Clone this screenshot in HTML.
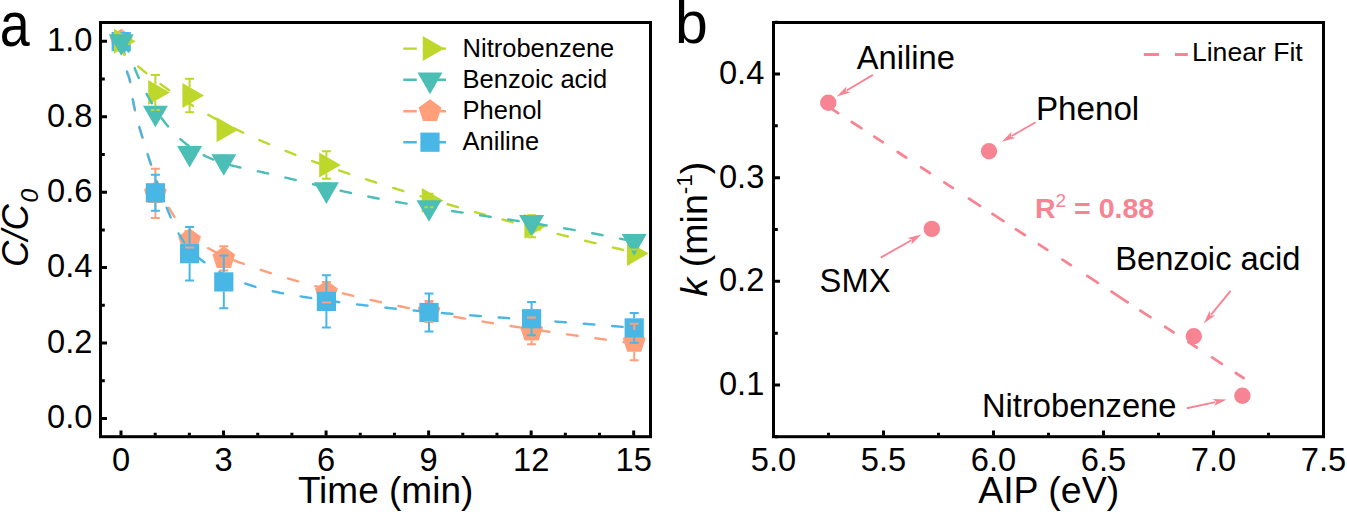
<!DOCTYPE html><html><head><meta charset="utf-8"><style>html,body{margin:0;padding:0;background:#fff;}svg{display:block;}text{font-family:"Liberation Sans",sans-serif;}</style></head><body>
<svg width="1347" height="512" viewBox="0 0 1347 512">
<rect width="1347" height="512" fill="#fff"/>
<text transform="translate(-0.2,46.2) scale(0.85,1)" font-size="63.4">a</text>
<g font-size="34" text-anchor="end">
<text transform="translate(92.4,428.3) scale(0.96,1)">0.0</text>
<text transform="translate(92.4,352.9) scale(0.96,1)">0.2</text>
<text transform="translate(92.4,277.4) scale(0.96,1)">0.4</text>
<text transform="translate(92.4,202.0) scale(0.96,1)">0.6</text>
<text transform="translate(92.4,126.5) scale(0.96,1)">0.8</text>
<text transform="translate(92.4,51.1) scale(0.96,1)">1.0</text>
</g>
<g font-size="34" text-anchor="middle">
<text transform="translate(121.0,470.6) scale(0.96,1)">0</text>
<text transform="translate(223.5,470.6) scale(0.96,1)">3</text>
<text transform="translate(326.1,470.6) scale(0.96,1)">6</text>
<text transform="translate(428.6,470.6) scale(0.96,1)">9</text>
<text transform="translate(531.2,470.6) scale(0.96,1)">12</text>
<text transform="translate(633.7,470.6) scale(0.96,1)">15</text>
</g>
<text x="297.9" y="502.6" font-size="37">Time (min)</text>
<text transform="translate(28.3,267) rotate(-90)" font-size="36.6" font-style="italic">C/C<tspan font-size="24.5" dx="1.5" dy="9.5">0</tspan></text>
<path d="M121.00,435.5 v-5 M155.18,435.5 v-2.8 M189.36,435.5 v-2.8 M223.54,435.5 v-5 M257.72,435.5 v-2.8 M291.90,435.5 v-2.8 M326.08,435.5 v-5 M360.26,435.5 v-2.8 M394.44,435.5 v-2.8 M428.62,435.5 v-5 M462.80,435.5 v-2.8 M496.98,435.5 v-2.8 M531.16,435.5 v-5 M565.34,435.5 v-2.8 M599.52,435.5 v-2.8 M633.70,435.5 v-5 M102,418.50 h5 M102,380.78 h2.8 M102,343.06 h5 M102,305.34 h2.8 M102,267.62 h5 M102,229.90 h2.8 M102,192.18 h5 M102,154.46 h2.8 M102,116.74 h5 M102,79.02 h2.8 M102,41.30 h5" stroke="#000" stroke-width="3" fill="none"/>
<defs><clipPath id="ca"><rect x="102" y="24" width="547" height="411"/></clipPath></defs>
<g clip-path="url(#ca)">
<!-- salmon P=28.50 ph=10.03 R=0.994 -->
<path d="M121.00,33.18 L122.28,36.27 L123.57,47.02 L124.85,59.95 L126.14,69.58 L127.42,73.82 L128.71,76.75 L129.99,81.20 L131.28,88.64 L132.56,97.27 L133.85,104.83 L135.13,111.35 L136.42,117.00 L137.70,121.97 L138.99,126.43 L140.27,130.55 L141.56,134.50 L142.84,138.47 L144.13,142.53 L145.41,146.66 L146.70,150.83 L147.98,154.99 L149.27,159.11 L150.55,163.13 L151.84,167.04 L153.12,170.82 L154.41,174.47 L155.69,177.99 L156.98,181.39 L158.26,184.67 L159.55,187.84 L160.83,190.89 L162.12,193.83 L163.40,196.66 L164.69,199.39 L165.97,202.01 L167.26,204.53 L168.54,206.95 L169.83,209.28 L171.11,211.52 L172.40,213.66 L173.68,215.72 L174.97,217.70 L176.25,219.59 L177.54,221.40 L178.82,223.14 L180.11,224.81 L181.39,226.40 L182.68,227.93 L183.96,229.39 L185.25,230.78 L186.53,232.12 L187.82,233.40 L189.10,234.63 L190.39,235.80 L191.67,236.93 L192.96,238.01 L194.24,239.04 L195.53,240.04 L196.81,240.99 L198.10,241.91 L199.38,242.80 L200.67,243.66 L201.95,244.49 L203.24,245.30 L204.52,246.08 L205.81,246.84 L207.09,247.59 L208.38,248.32 L209.66,249.03 L210.95,249.73 L212.23,250.42 L213.52,251.08 L214.80,251.74 L216.09,252.38 L217.37,253.01 L218.66,253.62 L219.94,254.23 L221.23,254.82 L222.51,255.40 L223.80,255.98 L225.08,256.54 L226.37,257.09 L227.65,257.64 L228.94,258.18 L230.22,258.71 L231.51,259.23 L232.79,259.75 L234.08,260.26 L235.36,260.77 L236.65,261.28 L237.93,261.77 L239.22,262.27 L240.50,262.76 L241.79,263.24 L243.07,263.72 L244.36,264.20 L245.64,264.67 L246.93,265.14 L248.21,265.61 L249.50,266.07 L250.78,266.52 L252.07,266.98 L253.35,267.42 L254.64,267.87 L255.92,268.31 L257.21,268.75 L258.49,269.19 L259.78,269.62 L261.06,270.05 L262.35,270.47 L263.63,270.90 L264.92,271.31 L266.20,271.73 L267.49,272.15 L268.77,272.56 L270.06,272.96 L271.34,273.37 L272.63,273.77 L273.91,274.18 L275.20,274.57 L276.48,274.97 L277.77,275.37 L279.05,275.76 L280.34,276.15 L281.62,276.54 L282.91,276.92 L284.19,277.31 L285.48,277.69 L286.76,278.07 L288.05,278.45 L289.33,278.83 L290.62,279.21 L291.90,279.58 L293.18,279.96 L294.47,280.33 L295.75,280.70 L297.04,281.07 L298.32,281.44 L299.61,281.81 L300.89,282.17 L302.18,282.53 L303.46,282.90 L304.75,283.26 L306.03,283.62 L307.32,283.97 L308.60,284.33 L309.89,284.68 L311.17,285.04 L312.46,285.39 L313.74,285.74 L315.03,286.09 L316.31,286.44 L317.60,286.78 L318.88,287.13 L320.17,287.47 L321.45,287.81 L322.74,288.15 L324.02,288.49 L325.31,288.83 L326.59,289.17 L327.88,289.50 L329.16,289.84 L330.45,290.17 L331.73,290.50 L333.02,290.83 L334.30,291.16 L335.59,291.48 L336.87,291.81 L338.16,292.13 L339.44,292.46 L340.73,292.78 L342.01,293.10 L343.30,293.42 L344.58,293.74 L345.87,294.05 L347.15,294.37 L348.44,294.68 L349.72,295.00 L351.01,295.31 L352.29,295.62 L353.58,295.93 L354.86,296.23 L356.15,296.54 L357.43,296.84 L358.72,297.15 L360.00,297.45 L361.29,297.75 L362.57,298.05 L363.86,298.35 L365.14,298.65 L366.43,298.95 L367.71,299.24 L369.00,299.54 L370.28,299.83 L371.57,300.12 L372.85,300.41 L374.14,300.70 L375.42,300.99 L376.71,301.28 L377.99,301.56 L379.28,301.85 L380.56,302.13 L381.85,302.42 L383.13,302.70 L384.42,302.98 L385.70,303.26 L386.99,303.54 L388.27,303.81 L389.56,304.09 L390.84,304.37 L392.13,304.64 L393.41,304.91 L394.70,305.18 L395.98,305.46 L397.27,305.72 L398.55,305.99 L399.84,306.26 L401.12,306.53 L402.41,306.79 L403.69,307.06 L404.98,307.32 L406.26,307.58 L407.55,307.85 L408.83,308.11 L410.12,308.37 L411.40,308.62 L412.69,308.88 L413.97,309.14 L415.26,309.39 L416.54,309.65 L417.83,309.90 L419.11,310.15 L420.40,310.41 L421.68,310.66 L422.97,310.91 L424.25,311.16 L425.54,311.40 L426.82,311.65 L428.11,311.90 L429.39,312.14 L430.68,312.39 L431.96,312.63 L433.25,312.87 L434.53,313.11 L435.82,313.35 L437.10,313.59 L438.39,313.83 L439.67,314.07 L440.96,314.31 L442.24,314.54 L443.53,314.78 L444.81,315.01 L446.10,315.25 L447.38,315.48 L448.67,315.71 L449.95,315.94 L451.24,316.18 L452.52,316.41 L453.81,316.63 L455.09,316.86 L456.38,317.09 L457.66,317.32 L458.95,317.54 L460.23,317.77 L461.52,317.99 L462.80,318.21 L464.08,318.44 L465.37,318.66 L466.65,318.88 L467.94,319.10 L469.22,319.32 L470.51,319.54 L471.79,319.76 L473.08,319.97 L474.36,320.19 L475.65,320.41 L476.93,320.62 L478.22,320.84 L479.50,321.05 L480.79,321.27 L482.07,321.48 L483.36,321.69 L484.64,321.90 L485.93,322.11 L487.21,322.32 L488.50,322.53 L489.78,322.74 L491.07,322.95 L492.35,323.16 L493.64,323.36 L494.92,323.57 L496.21,323.77 L497.49,323.98 L498.78,324.18 L500.06,324.39 L501.35,324.59 L502.63,324.79 L503.92,324.99 L505.20,325.20 L506.49,325.40 L507.77,325.60 L509.06,325.80 L510.34,326.00 L511.63,326.19 L512.91,326.39 L514.20,326.59 L515.48,326.79 L516.77,326.98 L518.05,327.18 L519.34,327.37 L520.62,327.57 L521.91,327.76 L523.19,327.96 L524.48,328.15 L525.76,328.34 L527.05,328.54 L528.33,328.73 L529.62,328.92 L530.90,329.11 L532.19,329.30 L533.47,329.49 L534.76,329.68 L536.04,329.87 L537.33,330.06 L538.61,330.25 L539.90,330.44 L541.18,330.62 L542.47,330.81 L543.75,331.00 L545.04,331.18 L546.32,331.37 L547.61,331.56 L548.89,331.74 L550.18,331.93 L551.46,332.11 L552.75,332.30 L554.03,332.48 L555.32,332.66 L556.60,332.85 L557.89,333.03 L559.17,333.21 L560.46,333.39 L561.74,333.57 L563.03,333.76 L564.31,333.94 L565.60,334.12 L566.88,334.30 L568.17,334.48 L569.45,334.66 L570.74,334.84 L572.02,335.02 L573.31,335.20 L574.59,335.38 L575.88,335.55 L577.16,335.73 L578.45,335.91 L579.73,336.09 L581.02,336.27 L582.30,336.44 L583.59,336.62 L584.87,336.80 L586.16,336.97 L587.44,337.15 L588.73,337.33 L590.01,337.50 L591.30,337.68 L592.58,337.85 L593.87,338.03 L595.15,338.21 L596.44,338.38 L597.72,338.56 L599.01,338.73 L600.29,338.91 L601.58,339.08 L602.86,339.25 L604.15,339.43 L605.43,339.60 L606.72,339.78 L608.00,339.95 L609.29,340.12 L610.57,340.30 L611.86,340.47 L613.14,340.65 L614.43,340.82 L615.71,340.99 L617.00,341.17 L618.28,341.34 L619.57,341.51 L620.85,341.69 L622.14,341.86 L623.42,342.03 L624.71,342.20 L625.99,342.38 L627.28,342.55 L628.56,342.72 L629.85,342.90 L631.13,343.07 L632.42,343.24 L633.70,343.41" stroke="#FFA07A" stroke-width="2.4" stroke-linecap="round" fill="none" stroke-dasharray="10.6 17.90" stroke-dashoffset="17.27"/>
<path d="M121.20,28.80 L132.61,37.09 L128.25,50.51 L114.15,50.51 L109.79,37.09Z" fill="#FFA07A"/>
<path d="M155.40,181.30 L166.81,189.59 L162.45,203.01 L148.35,203.01 L143.99,189.59Z" fill="#FFA07A"/>
<path d="M189.60,228.30 L201.01,236.59 L196.65,250.01 L182.55,250.01 L178.19,236.59Z" fill="#FFA07A"/>
<path d="M223.80,246.30 L235.21,254.59 L230.85,268.01 L216.75,268.01 L212.39,254.59Z" fill="#FFA07A"/>
<path d="M326.40,280.30 L337.81,288.59 L333.45,302.01 L319.35,302.01 L314.99,288.59Z" fill="#FFA07A"/>
<path d="M429.00,299.50 L440.41,307.79 L436.05,321.21 L421.95,321.21 L417.59,307.79Z" fill="#FFA07A"/>
<path d="M531.60,318.90 L543.01,327.19 L538.65,340.61 L524.55,340.61 L520.19,327.19Z" fill="#FFA07A"/>
<path d="M634.20,330.00 L645.61,338.29 L641.25,351.71 L627.15,351.71 L622.79,338.29Z" fill="#FFA07A"/>
<!-- blue P=28.45 ph=8.99 R=0.993 -->
<path d="M121.00,33.33 L122.28,37.40 L123.57,47.72 L124.85,59.65 L126.14,68.58 L127.42,72.83 L128.71,76.01 L129.99,80.94 L131.28,89.29 L132.56,98.33 L133.85,105.22 L135.13,110.79 L136.42,115.94 L137.70,120.88 L138.99,125.64 L140.27,130.23 L141.56,134.68 L142.84,139.00 L144.13,143.21 L145.41,147.34 L146.70,151.41 L147.98,155.43 L149.27,159.41 L150.55,163.34 L151.84,167.22 L153.12,171.05 L154.41,174.83 L155.69,178.55 L156.98,182.22 L158.26,185.83 L159.55,189.37 L160.83,192.86 L162.12,196.27 L163.40,199.63 L164.69,202.91 L165.97,206.12 L167.26,209.25 L168.54,212.31 L169.83,215.30 L171.11,218.20 L172.40,221.01 L173.68,223.74 L174.97,226.38 L176.25,228.93 L177.54,231.38 L178.82,233.74 L180.11,236.00 L181.39,238.15 L182.68,240.20 L183.96,242.14 L185.25,243.98 L186.53,245.70 L187.82,247.33 L189.10,248.86 L190.39,250.31 L191.67,251.68 L192.96,252.97 L194.24,254.19 L195.53,255.36 L196.81,256.47 L198.10,257.53 L199.38,258.55 L200.67,259.54 L201.95,260.50 L203.24,261.44 L204.52,262.35 L205.81,263.26 L207.09,264.14 L208.38,265.01 L209.66,265.86 L210.95,266.69 L212.23,267.51 L213.52,268.30 L214.80,269.09 L216.09,269.86 L217.37,270.61 L218.66,271.34 L219.94,272.06 L221.23,272.77 L222.51,273.46 L223.80,274.14 L225.08,274.80 L226.37,275.45 L227.65,276.08 L228.94,276.70 L230.22,277.31 L231.51,277.90 L232.79,278.48 L234.08,279.05 L235.36,279.60 L236.65,280.14 L237.93,280.67 L239.22,281.19 L240.50,281.70 L241.79,282.19 L243.07,282.68 L244.36,283.15 L245.64,283.61 L246.93,284.06 L248.21,284.50 L249.50,284.93 L250.78,285.35 L252.07,285.76 L253.35,286.17 L254.64,286.56 L255.92,286.94 L257.21,287.32 L258.49,287.68 L259.78,288.04 L261.06,288.39 L262.35,288.73 L263.63,289.06 L264.92,289.39 L266.20,289.71 L267.49,290.02 L268.77,290.33 L270.06,290.63 L271.34,290.92 L272.63,291.20 L273.91,291.49 L275.20,291.76 L276.48,292.03 L277.77,292.29 L279.05,292.55 L280.34,292.81 L281.62,293.06 L282.91,293.30 L284.19,293.55 L285.48,293.78 L286.76,294.02 L288.05,294.25 L289.33,294.48 L290.62,294.70 L291.90,294.92 L293.18,295.14 L294.47,295.36 L295.75,295.57 L297.04,295.79 L298.32,296.00 L299.61,296.21 L300.89,296.42 L302.18,296.63 L303.46,296.83 L304.75,297.04 L306.03,297.24 L307.32,297.44 L308.60,297.65 L309.89,297.84 L311.17,298.04 L312.46,298.24 L313.74,298.44 L315.03,298.63 L316.31,298.83 L317.60,299.02 L318.88,299.21 L320.17,299.40 L321.45,299.59 L322.74,299.78 L324.02,299.96 L325.31,300.15 L326.59,300.33 L327.88,300.51 L329.16,300.70 L330.45,300.88 L331.73,301.06 L333.02,301.23 L334.30,301.41 L335.59,301.59 L336.87,301.76 L338.16,301.94 L339.44,302.11 L340.73,302.28 L342.01,302.45 L343.30,302.62 L344.58,302.79 L345.87,302.96 L347.15,303.12 L348.44,303.29 L349.72,303.45 L351.01,303.62 L352.29,303.78 L353.58,303.94 L354.86,304.10 L356.15,304.26 L357.43,304.42 L358.72,304.57 L360.00,304.73 L361.29,304.88 L362.57,305.04 L363.86,305.19 L365.14,305.34 L366.43,305.50 L367.71,305.65 L369.00,305.80 L370.28,305.94 L371.57,306.09 L372.85,306.24 L374.14,306.38 L375.42,306.53 L376.71,306.67 L377.99,306.82 L379.28,306.96 L380.56,307.10 L381.85,307.24 L383.13,307.38 L384.42,307.52 L385.70,307.66 L386.99,307.80 L388.27,307.93 L389.56,308.07 L390.84,308.20 L392.13,308.34 L393.41,308.47 L394.70,308.60 L395.98,308.73 L397.27,308.87 L398.55,309.00 L399.84,309.13 L401.12,309.25 L402.41,309.38 L403.69,309.51 L404.98,309.64 L406.26,309.76 L407.55,309.89 L408.83,310.01 L410.12,310.14 L411.40,310.26 L412.69,310.38 L413.97,310.50 L415.26,310.62 L416.54,310.74 L417.83,310.86 L419.11,310.98 L420.40,311.10 L421.68,311.22 L422.97,311.34 L424.25,311.45 L425.54,311.57 L426.82,311.69 L428.11,311.80 L429.39,311.92 L430.68,312.03 L431.96,312.14 L433.25,312.25 L434.53,312.37 L435.82,312.48 L437.10,312.59 L438.39,312.70 L439.67,312.81 L440.96,312.92 L442.24,313.03 L443.53,313.14 L444.81,313.25 L446.10,313.35 L447.38,313.46 L448.67,313.57 L449.95,313.67 L451.24,313.78 L452.52,313.88 L453.81,313.99 L455.09,314.09 L456.38,314.20 L457.66,314.30 L458.95,314.40 L460.23,314.51 L461.52,314.61 L462.80,314.71 L464.08,314.81 L465.37,314.91 L466.65,315.02 L467.94,315.12 L469.22,315.22 L470.51,315.32 L471.79,315.42 L473.08,315.52 L474.36,315.61 L475.65,315.71 L476.93,315.81 L478.22,315.91 L479.50,316.01 L480.79,316.10 L482.07,316.20 L483.36,316.30 L484.64,316.40 L485.93,316.49 L487.21,316.59 L488.50,316.68 L489.78,316.78 L491.07,316.88 L492.35,316.97 L493.64,317.07 L494.92,317.16 L496.21,317.26 L497.49,317.35 L498.78,317.44 L500.06,317.54 L501.35,317.63 L502.63,317.73 L503.92,317.82 L505.20,317.91 L506.49,318.01 L507.77,318.10 L509.06,318.20 L510.34,318.29 L511.63,318.38 L512.91,318.47 L514.20,318.57 L515.48,318.66 L516.77,318.75 L518.05,318.85 L519.34,318.94 L520.62,319.03 L521.91,319.12 L523.19,319.22 L524.48,319.31 L525.76,319.40 L527.05,319.49 L528.33,319.59 L529.62,319.68 L530.90,319.77 L532.19,319.86 L533.47,319.96 L534.76,320.05 L536.04,320.14 L537.33,320.24 L538.61,320.33 L539.90,320.42 L541.18,320.51 L542.47,320.61 L543.75,320.70 L545.04,320.79 L546.32,320.89 L547.61,320.98 L548.89,321.07 L550.18,321.17 L551.46,321.26 L552.75,321.36 L554.03,321.45 L555.32,321.54 L556.60,321.64 L557.89,321.73 L559.17,321.83 L560.46,321.92 L561.74,322.02 L563.03,322.11 L564.31,322.21 L565.60,322.31 L566.88,322.40 L568.17,322.50 L569.45,322.59 L570.74,322.69 L572.02,322.79 L573.31,322.89 L574.59,322.98 L575.88,323.08 L577.16,323.18 L578.45,323.28 L579.73,323.38 L581.02,323.48 L582.30,323.57 L583.59,323.67 L584.87,323.77 L586.16,323.88 L587.44,323.98 L588.73,324.08 L590.01,324.18 L591.30,324.28 L592.58,324.38 L593.87,324.48 L595.15,324.59 L596.44,324.69 L597.72,324.79 L599.01,324.90 L600.29,325.00 L601.58,325.11 L602.86,325.21 L604.15,325.32 L605.43,325.43 L606.72,325.53 L608.00,325.64 L609.29,325.75 L610.57,325.86 L611.86,325.97 L613.14,326.07 L614.43,326.18 L615.71,326.29 L617.00,326.40 L618.28,326.52 L619.57,326.63 L620.85,326.74 L622.14,326.85 L623.42,326.97 L624.71,327.08 L625.99,327.20 L627.28,327.31 L628.56,327.43 L629.85,327.54 L631.13,327.66 L632.42,327.78 L633.70,327.90" stroke="#48B7E6" stroke-width="2.4" stroke-linecap="round" fill="none" stroke-dasharray="10.6 17.85" stroke-dashoffset="18.26"/>
<rect x="111.60" y="32.00" width="19.2" height="19.2" fill="#48B7E6"/>
<rect x="145.80" y="183.20" width="19.2" height="19.2" fill="#48B7E6"/>
<rect x="180.00" y="244.10" width="19.2" height="19.2" fill="#48B7E6"/>
<rect x="214.20" y="272.30" width="19.2" height="19.2" fill="#48B7E6"/>
<rect x="316.80" y="291.80" width="19.2" height="19.2" fill="#48B7E6"/>
<rect x="419.40" y="302.90" width="19.2" height="19.2" fill="#48B7E6"/>
<rect x="522.00" y="309.10" width="19.2" height="19.2" fill="#48B7E6"/>
<rect x="624.60" y="318.30" width="19.2" height="19.2" fill="#48B7E6"/>
<!-- green P=28.45 ph=21.74 R=0.995 -->
<path d="M121.00,51.27 L122.28,52.46 L123.57,53.64 L124.85,54.81 L126.14,55.97 L127.42,57.13 L128.71,58.27 L129.99,59.41 L131.28,60.54 L132.56,61.66 L133.85,62.77 L135.13,63.87 L136.42,64.97 L137.70,66.06 L138.99,67.14 L140.27,68.21 L141.56,69.27 L142.84,70.32 L144.13,71.37 L145.41,72.41 L146.70,73.44 L147.98,74.46 L149.27,75.48 L150.55,76.49 L151.84,77.49 L153.12,78.48 L154.41,79.47 L155.69,80.45 L156.98,81.42 L158.26,82.38 L159.55,83.34 L160.83,84.29 L162.12,85.23 L163.40,86.16 L164.69,87.09 L165.97,88.01 L167.26,88.93 L168.54,89.83 L169.83,90.73 L171.11,91.63 L172.40,92.51 L173.68,93.39 L174.97,94.27 L176.25,95.13 L177.54,95.99 L178.82,96.85 L180.11,97.70 L181.39,98.54 L182.68,99.37 L183.96,100.20 L185.25,101.02 L186.53,101.84 L187.82,102.65 L189.10,103.46 L190.39,104.26 L191.67,105.05 L192.96,105.84 L194.24,106.62 L195.53,107.39 L196.81,108.16 L198.10,108.93 L199.38,109.69 L200.67,110.44 L201.95,111.19 L203.24,111.93 L204.52,112.67 L205.81,113.40 L207.09,114.13 L208.38,114.85 L209.66,115.57 L210.95,116.28 L212.23,116.99 L213.52,117.69 L214.80,118.39 L216.09,119.08 L217.37,119.77 L218.66,120.45 L219.94,121.13 L221.23,121.81 L222.51,122.47 L223.80,123.14 L225.08,123.80 L226.37,124.46 L227.65,125.11 L228.94,125.76 L230.22,126.40 L231.51,127.04 L232.79,127.68 L234.08,128.31 L235.36,128.93 L236.65,129.56 L237.93,130.18 L239.22,130.79 L240.50,131.41 L241.79,132.01 L243.07,132.62 L244.36,133.22 L245.64,133.82 L246.93,134.41 L248.21,135.01 L249.50,135.59 L250.78,136.18 L252.07,136.76 L253.35,137.34 L254.64,137.91 L255.92,138.48 L257.21,139.05 L258.49,139.62 L259.78,140.18 L261.06,140.74 L262.35,141.30 L263.63,141.86 L264.92,142.41 L266.20,142.96 L267.49,143.50 L268.77,144.05 L270.06,144.59 L271.34,145.13 L272.63,145.66 L273.91,146.20 L275.20,146.73 L276.48,147.25 L277.77,147.78 L279.05,148.30 L280.34,148.82 L281.62,149.34 L282.91,149.86 L284.19,150.37 L285.48,150.88 L286.76,151.39 L288.05,151.89 L289.33,152.40 L290.62,152.90 L291.90,153.40 L293.18,153.90 L294.47,154.39 L295.75,154.88 L297.04,155.38 L298.32,155.86 L299.61,156.35 L300.89,156.83 L302.18,157.32 L303.46,157.80 L304.75,158.28 L306.03,158.75 L307.32,159.23 L308.60,159.70 L309.89,160.17 L311.17,160.64 L312.46,161.11 L313.74,161.57 L315.03,162.04 L316.31,162.50 L317.60,162.96 L318.88,163.42 L320.17,163.87 L321.45,164.33 L322.74,164.78 L324.02,165.23 L325.31,165.68 L326.59,166.13 L327.88,166.58 L329.16,167.03 L330.45,167.47 L331.73,167.91 L333.02,168.35 L334.30,168.79 L335.59,169.23 L336.87,169.67 L338.16,170.11 L339.44,170.54 L340.73,170.98 L342.01,171.41 L343.30,171.84 L344.58,172.27 L345.87,172.70 L347.15,173.13 L348.44,173.55 L349.72,173.98 L351.01,174.41 L352.29,174.83 L353.58,175.25 L354.86,175.67 L356.15,176.09 L357.43,176.51 L358.72,176.93 L360.00,177.35 L361.29,177.77 L362.57,178.19 L363.86,178.60 L365.14,179.02 L366.43,179.43 L367.71,179.85 L369.00,180.26 L370.28,180.67 L371.57,181.08 L372.85,181.49 L374.14,181.90 L375.42,182.31 L376.71,182.72 L377.99,183.13 L379.28,183.54 L380.56,183.95 L381.85,184.35 L383.13,184.76 L384.42,185.16 L385.70,185.56 L386.99,185.97 L388.27,186.37 L389.56,186.77 L390.84,187.17 L392.13,187.57 L393.41,187.97 L394.70,188.37 L395.98,188.77 L397.27,189.17 L398.55,189.56 L399.84,189.96 L401.12,190.36 L402.41,190.75 L403.69,191.15 L404.98,191.54 L406.26,191.93 L407.55,192.32 L408.83,192.72 L410.12,193.11 L411.40,193.50 L412.69,193.89 L413.97,194.27 L415.26,194.66 L416.54,195.05 L417.83,195.44 L419.11,195.82 L420.40,196.21 L421.68,196.59 L422.97,196.98 L424.25,197.36 L425.54,197.74 L426.82,198.13 L428.11,198.51 L429.39,198.89 L430.68,199.27 L431.96,199.65 L433.25,200.03 L434.53,200.41 L435.82,200.78 L437.10,201.16 L438.39,201.54 L439.67,201.91 L440.96,202.29 L442.24,202.66 L443.53,203.04 L444.81,203.41 L446.10,203.78 L447.38,204.15 L448.67,204.52 L449.95,204.90 L451.24,205.27 L452.52,205.64 L453.81,206.00 L455.09,206.37 L456.38,206.74 L457.66,207.11 L458.95,207.47 L460.23,207.84 L461.52,208.20 L462.80,208.57 L464.08,208.93 L465.37,209.30 L466.65,209.66 L467.94,210.02 L469.22,210.38 L470.51,210.74 L471.79,211.10 L473.08,211.46 L474.36,211.82 L475.65,212.18 L476.93,212.54 L478.22,212.90 L479.50,213.26 L480.79,213.61 L482.07,213.97 L483.36,214.32 L484.64,214.68 L485.93,215.03 L487.21,215.38 L488.50,215.74 L489.78,216.09 L491.07,216.44 L492.35,216.79 L493.64,217.14 L494.92,217.49 L496.21,217.84 L497.49,218.19 L498.78,218.54 L500.06,218.89 L501.35,219.24 L502.63,219.58 L503.92,219.93 L505.20,220.27 L506.49,220.62 L507.77,220.96 L509.06,221.31 L510.34,221.65 L511.63,221.99 L512.91,222.34 L514.20,222.68 L515.48,223.02 L516.77,223.36 L518.05,223.70 L519.34,224.04 L520.62,224.38 L521.91,224.72 L523.19,225.06 L524.48,225.39 L525.76,225.73 L527.05,226.07 L528.33,226.40 L529.62,226.74 L530.90,227.07 L532.19,227.41 L533.47,227.74 L534.76,228.08 L536.04,228.41 L537.33,228.74 L538.61,229.07 L539.90,229.40 L541.18,229.74 L542.47,230.07 L543.75,230.40 L545.04,230.73 L546.32,231.05 L547.61,231.38 L548.89,231.71 L550.18,232.04 L551.46,232.36 L552.75,232.69 L554.03,233.02 L555.32,233.34 L556.60,233.67 L557.89,233.99 L559.17,234.32 L560.46,234.64 L561.74,234.96 L563.03,235.29 L564.31,235.61 L565.60,235.93 L566.88,236.25 L568.17,236.57 L569.45,236.89 L570.74,237.21 L572.02,237.53 L573.31,237.85 L574.59,238.17 L575.88,238.49 L577.16,238.80 L578.45,239.12 L579.73,239.44 L581.02,239.75 L582.30,240.07 L583.59,240.38 L584.87,240.70 L586.16,241.01 L587.44,241.33 L588.73,241.64 L590.01,241.95 L591.30,242.27 L592.58,242.58 L593.87,242.89 L595.15,243.20 L596.44,243.51 L597.72,243.82 L599.01,244.13 L600.29,244.44 L601.58,244.75 L602.86,245.06 L604.15,245.37 L605.43,245.68 L606.72,245.98 L608.00,246.29 L609.29,246.60 L610.57,246.90 L611.86,247.21 L613.14,247.51 L614.43,247.82 L615.71,248.12 L617.00,248.43 L618.28,248.73 L619.57,249.04 L620.85,249.34 L622.14,249.64 L623.42,249.94 L624.71,250.24 L625.99,250.55 L627.28,250.85 L628.56,251.15 L629.85,251.45 L631.13,251.75 L632.42,252.05 L633.70,252.35" stroke="#BED72B" stroke-width="2.4" stroke-linecap="round" fill="none" stroke-dasharray="10.6 17.85" stroke-dashoffset="5.51"/>
<path d="M113.98,28.80 L135.63,41.30 L113.98,53.80Z" fill="#BED72B"/>
<path d="M148.18,80.10 L169.83,92.60 L148.18,105.10Z" fill="#BED72B"/>
<path d="M182.38,83.00 L204.03,95.50 L182.38,108.00Z" fill="#BED72B"/>
<path d="M216.58,117.15 L238.23,129.65 L216.58,142.15Z" fill="#BED72B"/>
<path d="M319.18,152.50 L340.83,165.00 L319.18,177.50Z" fill="#BED72B"/>
<path d="M421.78,188.00 L443.43,200.50 L421.78,213.00Z" fill="#BED72B"/>
<path d="M524.38,213.80 L546.03,226.30 L524.38,238.80Z" fill="#BED72B"/>
<path d="M626.98,240.90 L648.63,253.40 L626.98,265.90Z" fill="#BED72B"/>
<!-- teal P=28.35 ph=14.61 R=0.998 -->
<path d="M121.00,26.26 L122.28,30.94 L123.57,35.45 L124.85,39.80 L126.14,43.98 L127.42,48.01 L128.71,51.89 L129.99,55.63 L131.28,59.24 L132.56,62.71 L133.85,66.07 L135.13,69.30 L136.42,72.42 L137.70,75.43 L138.99,78.35 L140.27,81.17 L141.56,83.90 L142.84,86.55 L144.13,89.13 L145.41,91.63 L146.70,94.07 L147.98,96.45 L149.27,98.76 L150.55,101.02 L151.84,103.22 L153.12,105.36 L154.41,107.44 L155.69,109.47 L156.98,111.44 L158.26,113.36 L159.55,115.23 L160.83,117.05 L162.12,118.81 L163.40,120.53 L164.69,122.20 L165.97,123.82 L167.26,125.40 L168.54,126.93 L169.83,128.42 L171.11,129.86 L172.40,131.26 L173.68,132.62 L174.97,133.95 L176.25,135.23 L177.54,136.48 L178.82,137.68 L180.11,138.86 L181.39,140.00 L182.68,141.10 L183.96,142.18 L185.25,143.22 L186.53,144.23 L187.82,145.21 L189.10,146.17 L190.39,147.10 L191.67,147.99 L192.96,148.87 L194.24,149.71 L195.53,150.53 L196.81,151.33 L198.10,152.10 L199.38,152.84 L200.67,153.57 L201.95,154.27 L203.24,154.95 L204.52,155.60 L205.81,156.24 L207.09,156.85 L208.38,157.45 L209.66,158.02 L210.95,158.58 L212.23,159.12 L213.52,159.64 L214.80,160.15 L216.09,160.63 L217.37,161.11 L218.66,161.56 L219.94,162.01 L221.23,162.44 L222.51,162.85 L223.80,163.25 L225.08,163.64 L226.37,164.02 L227.65,164.39 L228.94,164.75 L230.22,165.09 L231.51,165.43 L232.79,165.76 L234.08,166.08 L235.36,166.39 L236.65,166.70 L237.93,167.00 L239.22,167.29 L240.50,167.58 L241.79,167.87 L243.07,168.15 L244.36,168.42 L245.64,168.70 L246.93,168.97 L248.21,169.24 L249.50,169.50 L250.78,169.77 L252.07,170.04 L253.35,170.31 L254.64,170.58 L255.92,170.85 L257.21,171.12 L258.49,171.40 L259.78,171.67 L261.06,171.95 L262.35,172.23 L263.63,172.52 L264.92,172.80 L266.20,173.09 L267.49,173.38 L268.77,173.67 L270.06,173.96 L271.34,174.26 L272.63,174.55 L273.91,174.85 L275.20,175.15 L276.48,175.44 L277.77,175.74 L279.05,176.05 L280.34,176.35 L281.62,176.65 L282.91,176.96 L284.19,177.26 L285.48,177.57 L286.76,177.88 L288.05,178.19 L289.33,178.50 L290.62,178.81 L291.90,179.12 L293.18,179.43 L294.47,179.74 L295.75,180.05 L297.04,180.36 L298.32,180.67 L299.61,180.99 L300.89,181.30 L302.18,181.61 L303.46,181.93 L304.75,182.24 L306.03,182.55 L307.32,182.86 L308.60,183.18 L309.89,183.49 L311.17,183.80 L312.46,184.11 L313.74,184.42 L315.03,184.73 L316.31,185.04 L317.60,185.35 L318.88,185.66 L320.17,185.97 L321.45,186.28 L322.74,186.58 L324.02,186.89 L325.31,187.19 L326.59,187.50 L327.88,187.80 L329.16,188.10 L330.45,188.40 L331.73,188.70 L333.02,189.00 L334.30,189.29 L335.59,189.59 L336.87,189.88 L338.16,190.17 L339.44,190.46 L340.73,190.75 L342.01,191.04 L343.30,191.32 L344.58,191.61 L345.87,191.89 L347.15,192.17 L348.44,192.45 L349.72,192.72 L351.01,193.00 L352.29,193.27 L353.58,193.55 L354.86,193.82 L356.15,194.09 L357.43,194.35 L358.72,194.62 L360.00,194.88 L361.29,195.15 L362.57,195.41 L363.86,195.67 L365.14,195.93 L366.43,196.19 L367.71,196.45 L369.00,196.70 L370.28,196.95 L371.57,197.21 L372.85,197.46 L374.14,197.71 L375.42,197.96 L376.71,198.20 L377.99,198.45 L379.28,198.70 L380.56,198.94 L381.85,199.18 L383.13,199.42 L384.42,199.66 L385.70,199.90 L386.99,200.14 L388.27,200.38 L389.56,200.61 L390.84,200.85 L392.13,201.08 L393.41,201.31 L394.70,201.54 L395.98,201.77 L397.27,202.00 L398.55,202.23 L399.84,202.46 L401.12,202.69 L402.41,202.91 L403.69,203.14 L404.98,203.36 L406.26,203.58 L407.55,203.80 L408.83,204.02 L410.12,204.24 L411.40,204.46 L412.69,204.68 L413.97,204.90 L415.26,205.11 L416.54,205.33 L417.83,205.54 L419.11,205.76 L420.40,205.97 L421.68,206.18 L422.97,206.39 L424.25,206.60 L425.54,206.81 L426.82,207.02 L428.11,207.23 L429.39,207.44 L430.68,207.65 L431.96,207.85 L433.25,208.06 L434.53,208.26 L435.82,208.47 L437.10,208.67 L438.39,208.88 L439.67,209.08 L440.96,209.28 L442.24,209.48 L443.53,209.69 L444.81,209.89 L446.10,210.09 L447.38,210.29 L448.67,210.49 L449.95,210.69 L451.24,210.88 L452.52,211.08 L453.81,211.28 L455.09,211.48 L456.38,211.67 L457.66,211.87 L458.95,212.07 L460.23,212.26 L461.52,212.46 L462.80,212.65 L464.08,212.85 L465.37,213.04 L466.65,213.24 L467.94,213.43 L469.22,213.63 L470.51,213.82 L471.79,214.01 L473.08,214.21 L474.36,214.40 L475.65,214.59 L476.93,214.79 L478.22,214.98 L479.50,215.17 L480.79,215.36 L482.07,215.56 L483.36,215.75 L484.64,215.94 L485.93,216.13 L487.21,216.33 L488.50,216.52 L489.78,216.71 L491.07,216.90 L492.35,217.09 L493.64,217.29 L494.92,217.48 L496.21,217.67 L497.49,217.86 L498.78,218.05 L500.06,218.25 L501.35,218.44 L502.63,218.63 L503.92,218.83 L505.20,219.02 L506.49,219.21 L507.77,219.41 L509.06,219.60 L510.34,219.79 L511.63,219.99 L512.91,220.18 L514.20,220.38 L515.48,220.57 L516.77,220.77 L518.05,220.96 L519.34,221.16 L520.62,221.35 L521.91,221.55 L523.19,221.75 L524.48,221.94 L525.76,222.14 L527.05,222.34 L528.33,222.54 L529.62,222.74 L530.90,222.94 L532.19,223.14 L533.47,223.34 L534.76,223.54 L536.04,223.74 L537.33,223.94 L538.61,224.14 L539.90,224.34 L541.18,224.55 L542.47,224.75 L543.75,224.96 L545.04,225.16 L546.32,225.37 L547.61,225.57 L548.89,225.78 L550.18,225.99 L551.46,226.20 L552.75,226.40 L554.03,226.61 L555.32,226.83 L556.60,227.04 L557.89,227.25 L559.17,227.46 L560.46,227.67 L561.74,227.89 L563.03,228.10 L564.31,228.32 L565.60,228.54 L566.88,228.75 L568.17,228.97 L569.45,229.19 L570.74,229.41 L572.02,229.63 L573.31,229.85 L574.59,230.08 L575.88,230.30 L577.16,230.53 L578.45,230.75 L579.73,230.98 L581.02,231.21 L582.30,231.43 L583.59,231.66 L584.87,231.89 L586.16,232.13 L587.44,232.36 L588.73,232.59 L590.01,232.83 L591.30,233.07 L592.58,233.30 L593.87,233.54 L595.15,233.78 L596.44,234.02 L597.72,234.26 L599.01,234.51 L600.29,234.75 L601.58,235.00 L602.86,235.24 L604.15,235.49 L605.43,235.74 L606.72,235.99 L608.00,236.24 L609.29,236.50 L610.57,236.75 L611.86,237.01 L613.14,237.27 L614.43,237.52 L615.71,237.78 L617.00,238.05 L618.28,238.31 L619.57,238.57 L620.85,238.84 L622.14,239.11 L623.42,239.37 L624.71,239.64 L625.99,239.92 L627.28,240.19 L628.56,240.46 L629.85,240.74 L631.13,241.02 L632.42,241.30 L633.70,241.58" stroke="#4BBFB6" stroke-width="2.4" stroke-linecap="round" fill="none" stroke-dasharray="10.6 17.75" stroke-dashoffset="12.54"/>
<path d="M108.70,34.18 L133.70,34.18 L121.20,55.83Z" fill="#4BBFB6"/>
<path d="M142.90,105.68 L167.90,105.68 L155.40,127.33Z" fill="#4BBFB6"/>
<path d="M177.10,145.88 L202.10,145.88 L189.60,167.53Z" fill="#4BBFB6"/>
<path d="M211.30,154.18 L236.30,154.18 L223.80,175.83Z" fill="#4BBFB6"/>
<path d="M313.90,182.28 L338.90,182.28 L326.40,203.93Z" fill="#4BBFB6"/>
<path d="M416.50,200.18 L441.50,200.18 L429.00,221.83Z" fill="#4BBFB6"/>
<path d="M519.10,214.98 L544.10,214.98 L531.60,236.63Z" fill="#4BBFB6"/>
<path d="M621.70,234.08 L646.70,234.08 L634.20,255.73Z" fill="#4BBFB6"/>
<path d="M155.40,181.30 V168.70 M155.40,203.00 V217.90 M150.90,168.70 h9 M150.90,217.90 h9 M185.10,233.10 h9 M185.10,247.50 h9 M223.80,246.30 V246.20 M223.80,268.00 V270.40 M219.30,246.20 h9 M219.30,270.40 h9 M326.40,302.00 V302.50 M321.90,282.10 h9 M321.90,302.50 h9 M429.00,321.20 V322.10 M424.50,300.90 h9 M424.50,322.10 h9 M531.60,318.90 V317.60 M531.60,340.60 V344.20 M527.10,317.60 h9 M527.10,344.20 h9 M634.20,330.00 V323.70 M634.20,351.70 V360.30 M629.70,323.70 h9 M629.70,360.30 h9" stroke="#FFA07A" stroke-width="2" fill="none"/>
<path d="M155.40,183.20 V174.80 M155.40,202.40 V210.80 M150.90,174.80 h9 M150.90,210.80 h9 M189.60,244.10 V227.00 M189.60,263.30 V280.40 M185.10,227.00 h9 M185.10,280.40 h9 M223.80,272.30 V255.50 M223.80,291.50 V308.30 M219.30,255.50 h9 M219.30,308.30 h9 M326.40,291.80 V275.20 M326.40,311.00 V327.60 M321.90,275.20 h9 M321.90,327.60 h9 M429.00,302.90 V293.40 M429.00,322.10 V331.60 M424.50,293.40 h9 M424.50,331.60 h9 M531.60,309.10 V302.10 M531.60,328.30 V335.30 M527.10,302.10 h9 M527.10,335.30 h9 M634.20,318.30 V313.10 M634.20,337.50 V342.70 M629.70,313.10 h9 M629.70,342.70 h9" stroke="#48B7E6" stroke-width="2" fill="none"/>
<path d="M155.40,84.30 V75.10 M155.40,100.90 V110.10 M150.90,75.10 h9 M150.90,110.10 h9 M189.60,87.20 V78.75 M189.60,103.80 V112.25 M185.10,78.75 h9 M185.10,112.25 h9 M219.30,125.65 h9 M219.30,133.65 h9 M326.40,156.70 V151.20 M326.40,173.30 V178.80 M321.90,151.20 h9 M321.90,178.80 h9 M424.50,193.80 h9 M424.50,207.20 h9 M531.60,218.00 V215.30 M531.60,234.60 V237.30 M527.10,215.30 h9 M527.10,237.30 h9 M629.70,249.40 h9 M629.70,257.40 h9" stroke="#BED72B" stroke-width="2" fill="none"/>
<path d="M155.40,112.90 V106.90 M155.40,112.90 V118.90 M150.90,106.90 h9 M150.90,118.90 h9 M189.60,153.10 V147.10 M189.60,153.10 V159.10 M185.10,147.10 h9 M185.10,159.10 h9 M223.80,161.40 V155.40 M223.80,161.40 V167.40 M219.30,155.40 h9 M219.30,167.40 h9 M326.40,189.50 V183.50 M326.40,189.50 V195.50 M321.90,183.50 h9 M321.90,195.50 h9 M429.00,207.40 V202.40 M429.00,207.40 V212.40 M424.50,202.40 h9 M424.50,212.40 h9 M531.60,222.20 V216.20 M531.60,222.20 V228.20 M527.10,216.20 h9 M527.10,228.20 h9 M634.20,241.30 V236.30 M634.20,241.30 V246.30 M629.70,236.30 h9 M629.70,246.30 h9" stroke="#4BBFB6" stroke-width="2" fill="none"/>
</g>
<rect x="100.5" y="22.5" width="550" height="414.2" fill="none" stroke="#000" stroke-width="3"/>
<path d="M403.3,48.6 H416.8 M430,48.6 H446" stroke="#BED72B" stroke-width="2.4" fill="none"/>
<path d="M422.78,36.10 L444.43,48.60 L422.78,61.10Z" fill="#BED72B"/>
<text x="462.6" y="56.9" font-size="25.5">Nitrobenzene</text>
<path d="M403.3,79.8 H416.8 M430,79.8 H446" stroke="#4BBFB6" stroke-width="2.4" fill="none"/>
<path d="M417.50,72.58 L442.50,72.58 L430.00,94.23Z" fill="#4BBFB6"/>
<text x="462.6" y="87.8" font-size="25.5">Benzoic acid</text>
<path d="M403.3,111.2 H416.8 M430,111.2 H446" stroke="#FFA07A" stroke-width="2.4" fill="none"/>
<path d="M430.00,99.20 L441.41,107.49 L437.05,120.91 L422.95,120.91 L418.59,107.49Z" fill="#FFA07A"/>
<text x="462.6" y="118.7" font-size="25.5">Phenol</text>
<path d="M403.3,142.2 H416.8 M430,142.2 H446" stroke="#48B7E6" stroke-width="2.4" fill="none"/>
<rect x="420.40" y="132.60" width="19.2" height="19.2" fill="#48B7E6"/>
<text x="462.6" y="149.6" font-size="25.5">Aniline</text>
<text x="675" y="43.4" font-size="59">b</text>
<g font-size="34" text-anchor="end">
<text transform="translate(764.3,394.8) scale(0.96,1)">0.1</text>
<text transform="translate(764.3,291.1) scale(0.96,1)">0.2</text>
<text transform="translate(764.3,187.5) scale(0.96,1)">0.3</text>
<text transform="translate(764.3,83.8) scale(0.96,1)">0.4</text>
</g>
<g font-size="34" text-anchor="middle">
<text transform="translate(773.5,470.6) scale(0.96,1)">5.0</text>
<text transform="translate(883.5,470.6) scale(0.96,1)">5.5</text>
<text transform="translate(993.5,470.6) scale(0.96,1)">6.0</text>
<text transform="translate(1103.5,470.6) scale(0.96,1)">6.5</text>
<text transform="translate(1213.5,470.6) scale(0.96,1)">7.0</text>
<text transform="translate(1323.5,470.6) scale(0.96,1)">7.5</text>
</g>
<text x="978.2" y="502.6" font-size="37.5">AIP (eV)</text>
<text transform="translate(707.4,296.5) rotate(-90)" font-size="37.6"><tspan font-style="italic">k</tspan> (min<tspan font-size="22.5" dy="-15.7">-1</tspan><tspan dy="15.7">)</tspan></text>
<path d="M773.50,435.5 v-5 M828.50,435.5 v-2.8 M883.50,435.5 v-5 M938.50,435.5 v-2.8 M993.50,435.5 v-5 M1048.50,435.5 v-2.8 M1103.50,435.5 v-5 M1158.50,435.5 v-2.8 M1213.50,435.5 v-5 M1268.50,435.5 v-2.8 M1323.50,435.5 v-5 M775,436.85 h2.8 M775,385.01 h5 M775,333.18 h2.8 M775,281.34 h5 M775,229.51 h2.8 M775,177.67 h5 M775,125.83 h2.8 M775,74.00 h5 M775,22.17 h2.8" stroke="#000" stroke-width="3" fill="none"/>
<path d="M828.3,106.6 L838.2,113.1 M851.8,122.0 L861.3,128.2 M874.3,136.7 L882.7,142.2 M897.7,152.0 L906.1,157.5 M921.2,167.3 L929.8,173.0 M944.3,182.4 L952.7,187.9 M969.0,198.6 L980.0,205.8 M992.5,213.9 L1003.5,221.1 M1016.0,229.3 L1024.7,235.0 M1038.9,244.3 L1047.3,249.8 M1062.4,259.6 L1070.8,265.1 M1087.3,275.9 L1097.9,282.8 M1111.5,291.7 L1127.7,302.3 M1140.3,310.6 L1150.4,317.2 M1165.2,326.8 L1173.6,332.3 M1188.5,342.1 L1196.8,347.5 M1212.0,357.4 L1221.8,363.8 M1235.8,373.0 L1243.5,378.0" stroke="#F78493" stroke-width="2.8" stroke-linecap="round" fill="none"/>
<circle cx="828.3" cy="102.8" r="8.2" fill="#F78493"/>
<circle cx="989" cy="151.3" r="8.2" fill="#F78493"/>
<circle cx="931.8" cy="228.9" r="8.2" fill="#F78493"/>
<circle cx="1193.8" cy="336.3" r="8.2" fill="#F78493"/>
<circle cx="1242.4" cy="395.8" r="8.2" fill="#F78493"/>
<path d="M872.9,74.9 L846.59,90.53" stroke="#F78493" stroke-width="1.9" fill="none"/><path d="M836.7,96.4 L846.47,86.41 L845.73,91.04 L850.15,92.60Z" fill="#F78493"/>
<path d="M1035.6,122.2 L1011.67,135.97" stroke="#F78493" stroke-width="1.9" fill="none"/><path d="M1001.7,141.7 L1011.61,131.85 L1010.80,136.46 L1015.20,138.09Z" fill="#F78493"/>
<path d="M880.7,257.6 L911.29,240.27" stroke="#F78493" stroke-width="1.9" fill="none"/><path d="M921.3,234.6 L911.33,244.39 L912.16,239.78 L907.78,238.12Z" fill="#F78493"/>
<path d="M1230.6,290.8 L1211.09,314.61" stroke="#F78493" stroke-width="1.9" fill="none"/><path d="M1203.8,323.5 L1209.57,310.78 L1210.46,315.38 L1215.14,315.34Z" fill="#F78493"/>
<path d="M1186.8,408.3 L1215.37,402.06" stroke="#F78493" stroke-width="1.9" fill="none"/><path d="M1226.6,399.6 L1214.18,406.00 L1216.34,401.84 L1212.64,398.97Z" fill="#F78493"/>
<g font-size="32.7">
<text x="856.7" y="68.5">Aniline</text>
<text x="1035.9" y="120.3" font-size="33.2">Phenol</text>
<text x="819.6" y="291.8">SMX</text>
<text x="1115.2" y="270.4">Benzoic acid</text>
<text x="982" y="416.7">Nitrobenzene</text>
</g>
<text x="1035" y="218.2" font-size="28.5" font-weight="bold" fill="#F78493">R<tspan font-size="19" font-weight="normal" dy="-11.5">2</tspan><tspan dy="11.5"> = 0.88</tspan></text>
<path d="M1143.8,54.4 H1158.9 M1174.9,54.4 H1187.8" stroke="#F78493" stroke-width="3" fill="none"/>
<text x="1191.9" y="61" font-size="26.6">Linear Fit</text>
<rect x="773.5" y="22.5" width="550" height="414.2" fill="none" stroke="#000" stroke-width="3"/>
</svg></body></html>
